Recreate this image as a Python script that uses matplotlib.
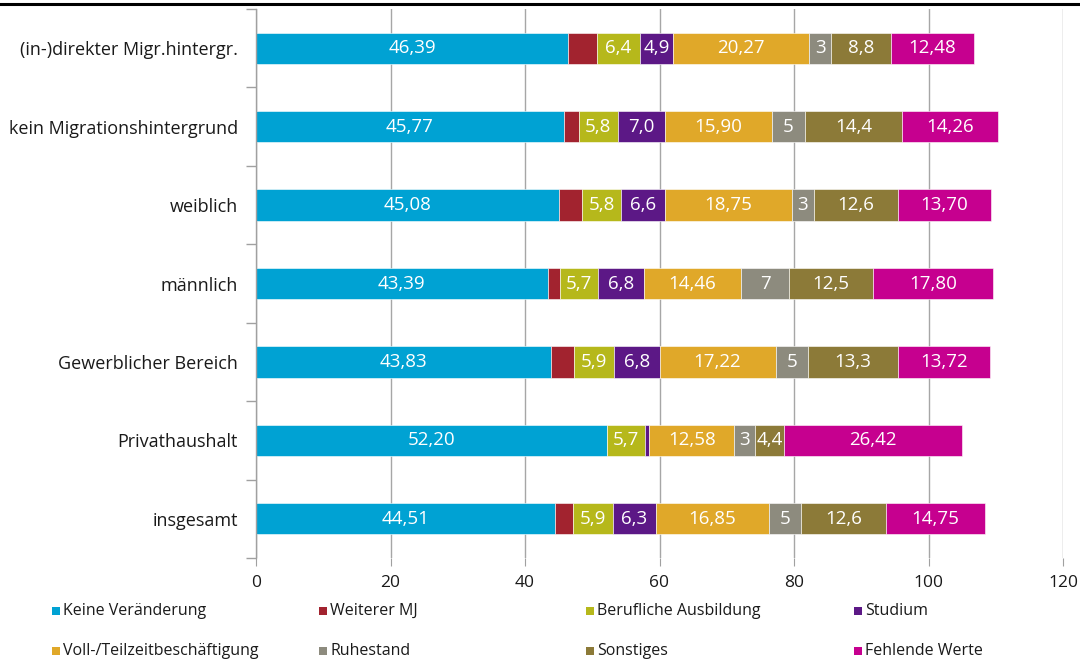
import numpy as np
import matplotlib
matplotlib.use('Agg')
import matplotlib.pyplot as plt
from matplotlib.patches import Rectangle
from matplotlib.lines import Line2D

plt.rcParams['font.family'] = ['Open Sans', 'DejaVu Sans']

# categories from top to bottom
categories = ['(in-)direkter Migr.hintergr.', 'kein Migrationshintergrund', 'weiblich',
              'männlich', 'Gewerblicher Bereich', 'Privathaushalt', 'insgesamt']

series_names = ['Keine Veränderung', 'Weiterer MJ', 'Berufliche Ausbildung', 'Studium',
                'Voll-/Teilzeitbeschäftigung', 'Ruhestand', 'Sonstiges', 'Fehlende Werte']
colors = ['#00A2D3', '#A2232F', '#B6B81B', '#5C1886', '#E0A829', '#8D8B7E', '#8C7A38', '#C6008F']
# decimals used in the data labels (None = no label)
decimals = [2, None, 1, 1, 2, 0, 1, 2]

keine      = [46.39, 45.77, 45.08, 43.39, 43.83, 52.20, 44.51]
weiterer   = [4.3, 2.2, 3.4, 1.8, 3.5, 0.0, 2.7]
beruflich  = [6.4, 5.8, 5.8, 5.7, 5.9, 5.7, 5.9]
studium    = [4.9, 7.0, 6.6, 6.8, 6.8, 0.6, 6.3]
voll       = [20.27, 15.90, 18.75, 14.46, 17.22, 12.58, 16.85]
ruhestand  = [3.3, 5.0, 3.3, 7.1, 4.9, 3.1, 4.8]
sonstiges  = [8.8, 14.4, 12.6, 12.5, 13.3, 4.4, 12.6]
fehlend    = [12.48, 14.26, 13.70, 17.80, 13.72, 26.42, 14.75]

data = [keine, weiterer, beruflich, studium, voll, ruhestand, sonstiges, fehlend]

fig = plt.figure(figsize=(10.8, 6.63), dpi=100)
ax = fig.add_axes([256 / 1080, 1 - 558 / 663, (1063 - 256) / 1080, (558 - 9) / 663])

y = np.arange(len(categories))
left = np.zeros(len(categories))
for vals, name, col, dec in zip(data, series_names, colors, decimals):
    vals = np.array(vals)
    ax.barh(y, vals, left=left, height=0.4, color=col, edgecolor='white', linewidth=0.4, label=name)
    if dec is not None:
        for yi, (l, v) in enumerate(zip(left, vals)):
            if v < 1:
                continue
            txt = f'{v:.{dec}f}'.replace('.', ',')
            ax.text(l + v / 2, yi, txt, ha='center', va='center', color='white', fontsize=13.5)
    left += vals

ax.set_xlim(0, 120)
ax.set_xticks(np.arange(0, 121, 20))
ax.set_ylim(len(categories) - 0.5, -0.5)
ax.set_yticks(y)
ax.set_yticklabels(categories, fontsize=13, color='#1a1a1a')
ax.set_yticks(np.arange(-0.5, len(categories)), minor=True)
ax.tick_params(axis='y', which='major', length=0, pad=13)
ax.tick_params(axis='y', which='minor', length=7, color='#a0a0a0', width=1)
ax.tick_params(axis='x', length=6, color='#a0a0a0', labelsize=12.5, pad=6, labelcolor='#1a1a1a')

ax.grid(axis='x', color='#a6a6a6', linewidth=1)
ax.set_axisbelow(True)
for s in ['top', 'right', 'bottom']:
    ax.spines[s].set_visible(False)
ax.spines['left'].set_color('#a0a0a0')
ax.spines['left'].set_linewidth(1)

# rule at the very top of the picture
fig.add_artist(Line2D([0, 1], [1 - 4 / 663, 1 - 4 / 663], color='black', linewidth=2.2))

# legend, two rows of four
col_x = [52, 319, 586, 854]
row_y = [611, 651]
for i, (name, col) in enumerate(zip(series_names, colors)):
    px = col_x[i % 4]
    py = row_y[i // 4]
    fig.add_artist(Rectangle((px / 1080, 1 - (py + 4) / 663), 8 / 1080, 8 / 663,
                             facecolor=col, edgecolor='none', transform=fig.transFigure))
    fig.text((px + 11) / 1080, 1 - py / 663, name, ha='left', va='center', fontsize=11.5, color='#1a1a1a')

fig.savefig('out.png', dpi=100)
